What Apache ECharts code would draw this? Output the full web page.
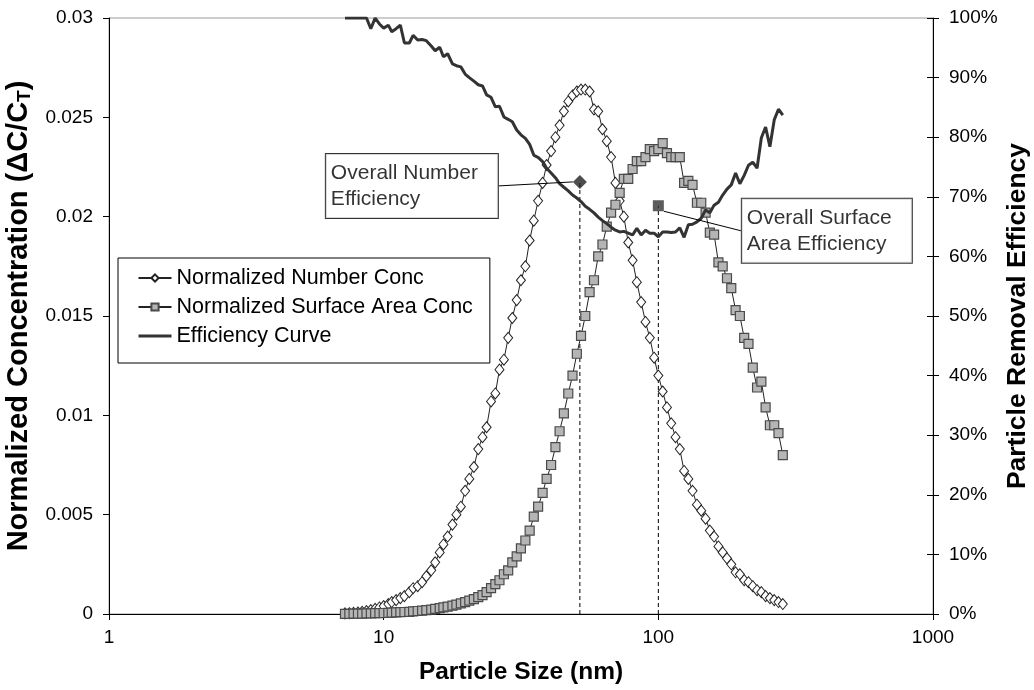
<!DOCTYPE html>
<html><head><meta charset="utf-8">
<script src="https://cdn.jsdelivr.net/npm/echarts@6/dist/echarts.min.js"></script>
<style>html,body{margin:0;padding:0;background:#fff}#c{width:1034px;height:690px}</style>
</head><body><div id="c"></div>
<script>
// Particle sizes (nm), SMPS channel midpoints
const sizes = [7.23,7.50,7.77,8.06,8.35,8.66,8.98,9.31,9.65,
10.0,10.4,10.7,11.1,11.5,11.9,12.4,12.8,13.3,13.8,14.3,14.9,15.4,16.0,16.5,17.1,17.8,18.4,19.1,19.8,
20.5,21.3,22.1,22.9,23.7,24.6,25.5,26.4,27.4,28.4,29.4,30.5,31.6,32.8,34.0,35.2,36.5,37.9,39.2,40.7,
42.2,43.7,45.3,47.0,48.7,50.5,52.3,54.2,56.2,58.3,60.4,62.6,64.9,67.3,69.8,72.3,74.9,77.7,80.6,83.5,
86.6,89.8,93.1,96.5,100.0,103.7,107.5,111.4,115.5,119.7,124.1,128.6,133.2,138.2,143.3,148.6,154.0,159.6,
165.5,171.5,177.8,184.3,191.1,198.1,205.4,212.9,220.7,228.8,237.2,245.8,254.8,264.2,273.8,283.9];

const numberConc = [0.00003,0.00004,0.00006,0.00008,0.00011,0.00015,0.0002,0.00026,0.00033,0.0004,
0.0005,0.0006,0.0007,0.0008,0.0009,0.0011,0.0013,0.0014,0.0016,0.0019,
0.0022,0.0026,0.0031,0.0035,0.0039,0.0045,0.0050,0.0054,0.0062,0.0068,
0.0074,0.0083,0.0089,0.0094,0.0107,0.0111,0.0123,0.0128,0.0139,0.0149,
0.0158,0.0168,0.0175,0.0188,0.0198,0.0208,0.0217,0.0226,0.0233,0.0240,
0.0246,0.0253,0.0258,0.0261,0.0263,0.0264,0.0264,0.0263,0.0254,0.0253,
0.0244,0.0238,0.0230,0.0217,0.0208,0.0200,0.0187,0.0178,0.0167,0.0157,
0.0147,0.0139,0.0129,0.0120,0.0112,0.0104,0.0096,0.0089,0.0083,0.0072,
0.0068,0.0062,0.0055,0.0052,0.0048,0.0042,0.0039,0.0034,0.0031,0.0028,
0.0025,0.0021,0.0020,0.0017,0.0016,0.0014,0.0012,0.0011,0.0009,0.0008,
0.0007,0.0006,0.0005];

const surfaceConc = [0.00001,0.00001,0.00002,0.00002,0.00002,0.00003,0.00003,0.00004,0.00004,0.00005,
0.00006,0.00007,0.00008,0.00009,0.0001,0.00011,0.00013,0.00015,0.00017,0.0002,
0.00022,0.00026,0.0003,0.00033,0.00037,0.00042,0.00047,0.00053,0.0006,0.00067,
0.00075,0.00085,0.00095,0.0011,0.0013,0.0015,0.0017,0.0020,0.0022,0.0026,
0.0029,0.0033,0.0037,0.0042,0.0049,0.0054,0.0061,0.0068,0.0075,0.0084,
0.0092,0.0101,0.0111,0.0120,0.0131,0.0140,0.0150,0.0162,0.0168,0.0180,
0.0186,0.0195,0.0202,0.0206,0.0212,0.0219,0.0219,0.0224,0.0228,0.0228,
0.0230,0.0234,0.0233,0.0234,0.0237,0.0232,0.0230,0.0230,0.0230,0.0217,
0.0218,0.0216,0.0207,0.0207,0.0202,0.0192,0.0191,0.0177,0.0175,0.0169,
0.0164,0.0153,0.0150,0.0139,0.0136,0.0124,0.0114,0.0117,0.0104,0.0095,
0.0095,0.0091,0.0080];

const efficiency = [100,100,100,100,100,100,98.2,100,99.0,98.3,
98.8,97.7,98.2,98.8,95.8,95.8,97.1,96.3,96.4,96.2,
95.3,94.5,95.1,93.5,94.0,92.3,92.0,91.8,90.6,90.0,
89.4,88.8,88.6,87.1,86.7,85.1,85.2,83.4,83.0,82.6,
81.2,80.4,79.8,78.8,77.0,76.6,75.9,74.8,74.0,73.2,
72.2,71.6,71.0,70.3,69.8,69.2,68.4,67.9,67.3,66.6,
66.0,65.5,64.9,64.4,64.1,64.2,63.9,63.6,64.7,63.6,
64.4,63.9,63.9,63.3,64.1,64.1,64.0,64.1,64.8,63.2,
65.3,65.4,65.8,66.4,67.8,67.3,68.6,69.1,70.3,71.3,
72.0,74.0,72.2,73.6,75.3,75.8,74.8,79.9,81.7,78.4,
82.9,84.7,83.7];

const overallNumber = [51.8, 72.5];   // size nm, efficiency %
const overallSurface = [100, 68.5];

const seriesNames = ['Normalized Number Conc','Normalized Surface Area Conc','Efficiency Curve'];
const calloutNumber = 'Overall Number\nEfficiency';
const calloutSurface = 'Overall Surface\nArea Efficiency';

const FONT = '"Liberation Sans", Arial, Helvetica, sans-serif';
const zip = (xs, ys) => xs.map((x, i) => [x, ys[i]]);
const chart = echarts.init(document.getElementById('c'), null, {renderer: 'canvas'});

const axisLine = {show: true, lineStyle: {color: '#000', width: 1}};
const calloutBox = {
  show: true, color: '#000', fontSize: 21, lineHeight: 26, fontFamily: FONT,
  align: 'left', verticalAlign: 'middle', distance: 0,
  backgroundColor: '#fff', borderColor: '#000', borderWidth: 1
};

chart.setOption({
  animation: false,
  textStyle: {fontFamily: FONT},
  grid: {left: 109, right: 101, top: 18, bottom: 76, outerBoundsMode: 'none', containLabel: false,
    show: true, borderColor: '#9a9a9a', borderWidth: 1, backgroundColor: '#fff'},
  legend: {
    data: [seriesNames[0], seriesNames[1],
      {name: seriesNames[2], itemStyle: {opacity: 0}, lineStyle: {width: 3, color: '#333'}}],
    orient: 'vertical', left: 118, top: 258,
    itemWidth: 33, itemHeight: 9, itemGap: 7, padding: [9, 17, 16, 19],
    borderColor: '#000', borderWidth: 1, backgroundColor: '#fff', selectedMode: false,
    textStyle: {fontSize: 21.5, color: '#000', fontFamily: FONT}
  },
  xAxis: {
    type: 'log', logBase: 10, min: 1, max: 1000,
    axisLine: axisLine, axisTick: {show: true, length: 6, lineStyle: {color: '#000'}},
    minorTick: {show: false}, splitLine: {show: false}, minorSplitLine: {show: false},
    axisLabel: {fontSize: 19, color: '#000', margin: 14, fontFamily: FONT, formatter: v => String(Math.round(v))},
    name: 'Particle Size (nm)', nameLocation: 'middle', nameGap: 46,
    nameTextStyle: {fontSize: 24.5, fontWeight: 'bold', color: '#000', fontFamily: FONT}
  },
  yAxis: [
    {
      type: 'value', min: 0, max: 0.03, interval: 0.005, position: 'left',
      axisLine: axisLine, axisTick: {show: true, length: 6, lineStyle: {color: '#000'}},
      splitLine: {show: false},
      axisLabel: {fontSize: 19, color: '#000', margin: 16, fontFamily: FONT,
        formatter: v => String(parseFloat(v.toFixed(4)))},
      name: '{n|Normalized Concentration (ΔC/C}{s|T}{n|)}', nameLocation: 'middle', nameGap: 70, nameRotate: 90,
      nameTextStyle: {color: '#000', rich: {
        n: {fontSize: 29, fontWeight: 'bold', color: '#000', fontFamily: FONT, lineHeight: 32},
        s: {fontSize: 19, fontWeight: 'bold', color: '#000', fontFamily: FONT, lineHeight: 17, verticalAlign: 'bottom'}
      }}
    },
    {
      type: 'value', min: 0, max: 100, interval: 10, position: 'right',
      axisLine: axisLine, axisTick: {show: true, length: 6, lineStyle: {color: '#000'}},
      splitLine: {show: false},
      axisLabel: {fontSize: 19, color: '#000', margin: 16, formatter: '{value}%', fontFamily: FONT},
      name: 'Particle Removal Efficiency', nameLocation: 'middle', nameGap: 71, nameRotate: 90,
      nameMoveOverlap: false,
      nameTextStyle: {fontSize: 26.5, fontWeight: 'bold', color: '#000', fontFamily: FONT}
    },
    {
      type: 'value', min: 0, max: 100, interval: 10, position: 'right',
      axisLine: {show: false}, axisTick: {show: true, inside: true, length: 6, lineStyle: {color: '#000'}},
      axisLabel: {show: false}, splitLine: {show: false}
    }
  ],
  series: [
    {
      name: seriesNames[0], type: 'line', data: zip(sizes, numberConc),
      symbol: 'diamond', symbolSize: [9, 11], showAllSymbol: true,
      itemStyle: {color: '#fff', borderColor: '#222', borderWidth: 1},
      lineStyle: {color: '#222', width: 1}, emphasis: {disabled: true}, z: 3
    },
    {
      name: seriesNames[1], type: 'line', data: zip(sizes, surfaceConc),
      symbol: 'rect', symbolSize: 9, showAllSymbol: true,
      itemStyle: {color: '#b5b5b5', borderColor: '#4a4a4a', borderWidth: 1.2},
      lineStyle: {color: '#222', width: 1}, emphasis: {disabled: true}, z: 3
    },
    {
      name: seriesNames[2], type: 'line', yAxisIndex: 1, data: zip(sizes, efficiency),
      symbol: 'none', showSymbol: false,
      itemStyle: {color: '#333'}, lineStyle: {color: '#333', width: 3}, emphasis: {disabled: true}, z: 4
    },
    {
      type: 'line', yAxisIndex: 1, data: [[overallNumber[0], 0], overallNumber],
      symbol: 'none', lineStyle: {color: '#000', width: 1, type: [4, 3]}, silent: true, z: 2
    },
    {
      type: 'line', yAxisIndex: 1, data: [[overallSurface[0], 0], overallSurface],
      symbol: 'none', lineStyle: {color: '#000', width: 1, type: [4, 3]}, silent: true, z: 2
    },
    {
      name: 'Overall Number Efficiency', type: 'scatter', yAxisIndex: 1, data: [overallNumber],
      symbol: 'diamond', symbolSize: 14, itemStyle: {color: '#222'}, z: 5, silent: true,
      label: Object.assign({}, calloutBox, {position: 'left', formatter: calloutNumber, width: 163, padding: [6, 4, 6, 5]}),
      labelLayout: {dx: -247, dy: 4},
      labelLine: {show: true, lineStyle: {color: '#000', width: 1}}
    },
    {
      name: 'Overall Surface Area Efficiency', type: 'scatter', yAxisIndex: 1, data: [overallSurface],
      symbol: 'rect', symbolSize: 11, itemStyle: {color: '#333'}, z: 5, silent: true,
      label: Object.assign({}, calloutBox, {position: 'right', formatter: calloutSurface, width: 160, padding: [6, 5, 6, 5]}),
      labelLayout: {dx: 78, dy: 25},
      labelLine: {show: true, lineStyle: {color: '#000', width: 1}}
    }
  ]
});
</script></body></html>
